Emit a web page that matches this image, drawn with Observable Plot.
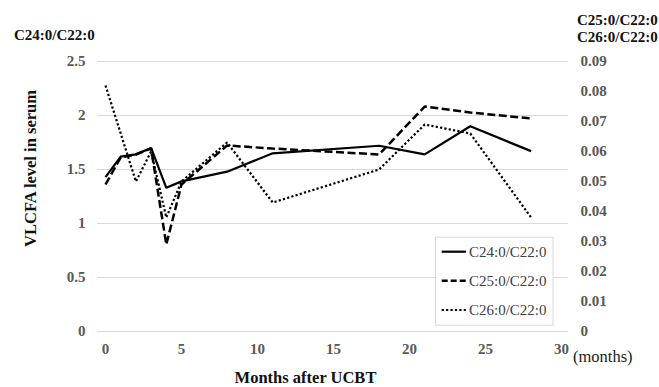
<!DOCTYPE html>
<html>
<head>
<meta charset="utf-8">
<script src="https://cdn.jsdelivr.net/npm/d3@7"></script>
<script src="https://cdn.jsdelivr.net/npm/@observablehq/plot@0.6"></script>
<style>
  html, body { margin: 0; padding: 0; background: #fff; }
  #wrap { position: relative; width: 659px; height: 387px; overflow: hidden; }
  #wrap svg { position: absolute; left: 0; top: 0; }
  #wrap svg text { font-family: "Liberation Serif", "Times New Roman", serif; }
</style>
</head>
<body>
<div id="wrap"></div>
<script>
// ---- data ----
const monthsAll = [0, 1, 2, 3, 4, 5, 8, 11, 18, 21, 24, 28];
const c24 = [1.43, 1.62, 1.64, 1.70, 1.33, 1.39, 1.48, 1.65, 1.72, 1.64, 1.90, 1.67];
const c25 = [0.049, 0.058, 0.059, 0.061, 0.029, 0.049, 0.062, 0.061, 0.059, 0.075, 0.073, 0.071];
const months26 = [0, 2, 3, 4, 5, 8, 11, 18, 21, 24, 28];
const c26 = [0.082, 0.050, 0.060, 0.038, 0.050, 0.063, 0.043, 0.054, 0.069, 0.066, 0.038];

const leftTicks = [0, 0.5, 1, 1.5, 2, 2.5];
const rightTicks = [0, 0.01, 0.02, 0.03, 0.04, 0.05, 0.06, 0.07, 0.08, 0.09];
const xTicks = [0, 5, 10, 15, 20, 25, 30];
const seriesNames = ["C24:0/C22:0", "C25:0/C22:0", "C26:0/C22:0"];

// right axis mapped onto the left axis range
const k = 2.5 / 0.09;

const d24 = monthsAll.map((m, i) => ({m, v: c24[i]}));
const d25 = monthsAll.map((m, i) => ({m, v: c25[i] * k}));
const d26 = months26.map((m, i) => ({m, v: c26[i] * k}));

const font = "Liberation Serif";
const tickStyle = {fontSize: 15, fontWeight: "bold", fill: "#595959", fontFamily: font};

const chart = Plot.plot({
  width: 659,
  height: 387,
  marginLeft: 97,
  marginRight: 91,
  marginTop: 61,
  marginBottom: 56,
  style: {fontFamily: font, background: "transparent", overflow: "visible"},
  x: {domain: [0, 30], insetLeft: 8, insetRight: 7},
  y: {domain: [0, 2.5]},
  marks: [
    Plot.gridY(leftTicks, {stroke: "#d9d9d9", strokeOpacity: 1, strokeWidth: 1.2}),
    Plot.axisY(leftTicks, {anchor: "left", tickSize: 0, tickPadding: 12, label: null,
      tickFormat: d => String(d), ...tickStyle}),
    Plot.axisY(rightTicks.map(v => v * k), {anchor: "right", tickSize: 0, tickPadding: 12, label: null,
      tickFormat: d => { const v = Math.round(d / k * 100) / 100; return v === 0 ? "0" : v.toFixed(2); },
      ...tickStyle}),
    Plot.axisX(xTicks, {anchor: "bottom", tickSize: 0, tickPadding: 12, label: null,
      tickFormat: d => String(d), ...tickStyle}),
    Plot.line(d26, {x: "m", y: "v", stroke: "#000", strokeWidth: 2.2, strokeDasharray: "2.2,2.2",
      strokeLinecap: "butt", strokeLinejoin: "miter"}),
    Plot.line(d25, {x: "m", y: "v", stroke: "#000", strokeWidth: 2.5, strokeDasharray: "8,3.5",
      strokeLinecap: "butt", strokeLinejoin: "miter"}),
    Plot.line(d24, {x: "m", y: "v", stroke: "#000", strokeWidth: 2.2, strokeLinecap: "butt", strokeLinejoin: "miter"})
  ]
});

const wrap = document.getElementById("wrap");
wrap.appendChild(chart);

// ---- overlay: titles, axis titles, legend ----
const ov = d3.select(wrap).append("svg")
  .attr("width", 659).attr("height", 387)
  .attr("font-family", font)
  .style("pointer-events", "none");

function txt(sel) { return sel.append("text").attr("font-family", font); }

txt(ov).attr("x", 14).attr("y", 40)
  .attr("font-size", 15).attr("font-weight", "bold").attr("fill", "#111")
  .text(seriesNames[0]);
txt(ov).attr("x", 577).attr("y", 25)
  .attr("font-size", 15).attr("font-weight", "bold").attr("fill", "#111")
  .text(seriesNames[1]);
txt(ov).attr("x", 577).attr("y", 41.5)
  .attr("font-size", 15).attr("font-weight", "bold").attr("fill", "#111")
  .text(seriesNames[2]);

txt(ov)
  .attr("transform", "translate(36,168.5) rotate(-90)")
  .attr("text-anchor", "middle")
  .attr("font-size", 16.5).attr("font-weight", "bold").attr("fill", "#111")
  .text("VLCFA level in serum");

txt(ov).attr("x", 305.5).attr("y", 383)
  .attr("text-anchor", "middle")
  .attr("font-size", 16.5).attr("font-weight", "bold").attr("fill", "#111")
  .text("Months after UCBT");

txt(ov).attr("x", 573).attr("y", 362)
  .attr("font-size", 16.5).attr("fill", "#222")
  .text("(months)");

// legend
const lg = ov.append("g").attr("transform", "translate(435,236.7)");
lg.append("rect").attr("x", 0.5).attr("y", 0.5).attr("width", 117.5).attr("height", 88)
  .attr("fill", "#fff").attr("stroke", "#d9d9d9").attr("stroke-width", 1);
const dashes = [null, "6,3", "2.2,2.2"];
const widths = [2.2, 2.5, 2.2];
const rowY = [15, 44, 73.3];
seriesNames.forEach((name, i) => {
  const l = lg.append("line").attr("x1", 6.7).attr("x2", 31).attr("y1", rowY[i]).attr("y2", rowY[i])
    .attr("stroke", "#000").attr("stroke-width", widths[i]);
  if (dashes[i]) l.attr("stroke-dasharray", dashes[i]);
  txt(lg).attr("x", 34).attr("y", rowY[i] + 5.2)
    .attr("font-size", 15).attr("fill", "#404040").text(name);
});
</script>
</body>
</html>
